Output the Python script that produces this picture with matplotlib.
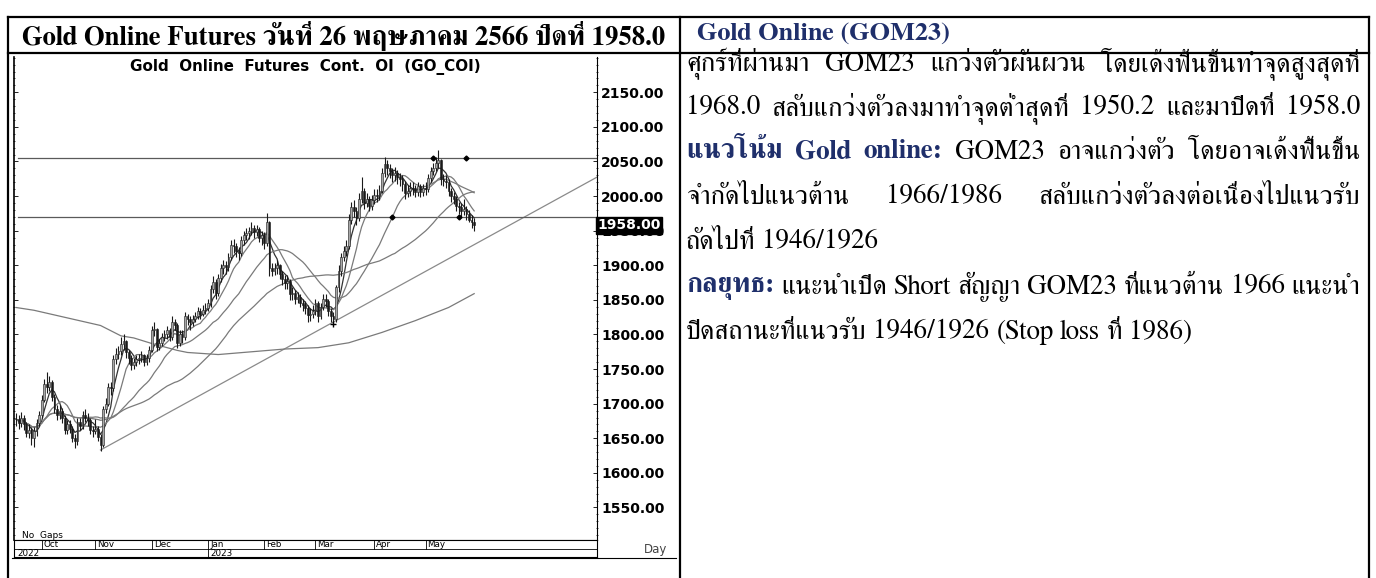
import numpy as np
import pandas as pd
import matplotlib
matplotlib.use('Agg')
import matplotlib.pyplot as plt
import matplotlib.transforms as mtransforms
from matplotlib.ticker import MultipleLocator

# ---------------- data ----------------
days = pd.bdate_range('2022-09-19', '2023-05-26')

close = [
    1678, 1672, 1680, 1670, 1658, 1662, 1650, 1660, 1672, 1684,
    1706, 1728, 1724, 1732, 1710, 1692, 1684, 1690, 1680, 1662,
    1670, 1664, 1650, 1646, 1674, 1668, 1684, 1680, 1676, 1662, 1660,
    1664, 1652, 1640, 1692, 1700, 1724, 1722, 1764, 1772, 1776,
    1786, 1790, 1774, 1766, 1756, 1760, 1764, 1766, 1770, 1760, 1766, 1778,
    1806, 1808, 1782, 1788, 1796, 1800, 1806, 1796, 1818, 1814,
    1788, 1800, 1796, 1826, 1822, 1818, 1822, 1826, 1834, 1830, 1836, 1838,
    1846, 1866, 1876, 1860, 1882, 1896, 1900, 1898, 1912, 1930,
    1928, 1920, 1918, 1936, 1944, 1946, 1950, 1954, 1948, 1952, 1940, 1944,
    1932, 1962, 1896, 1892, 1896, 1900, 1888, 1880, 1874, 1878,
    1858, 1860, 1852, 1854, 1846, 1842, 1838, 1828, 1830, 1834,
    1846, 1826, 1840, 1852, 1848, 1834, 1826, 1822, 1868, 1892,
    1912, 1920, 1928, 1966, 1984, 1978, 1968, 1996, 2008, 1990, 1996, 1986, 1994,
    2002, 2000, 2008, 2034, 2046, 2040, 2036, 2030, 2034, 2028,
    2024, 2018, 2004, 2008, 2012, 2010, 2006, 2014, 2006, 2012,
    2010, 2026, 2036, 2040, 2048, 2052, 2024, 2022, 2020, 2008,
    2000, 1996, 1986, 1984, 1978, 1982, 1974, 1966, 1962, 1958,
]
high = [
    1686, 1684, 1688, 1684, 1674, 1670, 1666, 1666, 1678, 1690,
    1712, 1736, 1746, 1740, 1734, 1714, 1698, 1698, 1694, 1684,
    1676, 1676, 1668, 1656, 1680, 1680, 1690, 1692, 1686, 1680, 1668,
    1678, 1668, 1656, 1696, 1708, 1730, 1732, 1770, 1780, 1784,
    1796, 1800, 1792, 1778, 1770, 1766, 1770, 1772, 1776, 1772, 1772, 1784,
    1812, 1818, 1810, 1794, 1802, 1806, 1812, 1810, 1826, 1822,
    1816, 1806, 1806, 1832, 1830, 1826, 1828, 1832, 1840, 1838, 1842, 1846,
    1852, 1872, 1884, 1880, 1888, 1902, 1908, 1906, 1918, 1936,
    1938, 1932, 1926, 1942, 1950, 1954, 1956, 1962, 1958, 1958, 1956, 1950,
    1948, 1976, 1964, 1904, 1904, 1908, 1902, 1892, 1886, 1886,
    1880, 1868, 1864, 1862, 1858, 1852, 1848, 1842, 1838, 1842,
    1852, 1848, 1846, 1858, 1858, 1852, 1838, 1832, 1872, 1900,
    1918, 1928, 1936, 1974, 1992, 1994, 1984, 2004, 2028, 2012, 2004, 2000, 2002,
    2010, 2010, 2016, 2040, 2057, 2052, 2046, 2040, 2042, 2038,
    2034, 2030, 2022, 2016, 2020, 2020, 2016, 2020, 2018, 2018,
    2020, 2032, 2042, 2048, 2056, 2067, 2054, 2032, 2030, 2024,
    2012, 2006, 2000, 1992, 1990, 1996, 1986, 1980, 1972, 1968,
]
low = [
    1668, 1664, 1666, 1662, 1652, 1650, 1640, 1638, 1654, 1668,
    1680, 1702, 1716, 1718, 1704, 1686, 1676, 1678, 1672, 1656,
    1656, 1658, 1644, 1636, 1640, 1662, 1664, 1674, 1668, 1656, 1652,
    1656, 1646, 1632, 1638, 1686, 1696, 1712, 1718, 1758, 1764,
    1770, 1778, 1766, 1758, 1748, 1750, 1754, 1758, 1760, 1754, 1756, 1760,
    1774, 1798, 1776, 1778, 1784, 1790, 1794, 1790, 1792, 1806,
    1780, 1784, 1788, 1792, 1814, 1806, 1812, 1818, 1822, 1822, 1826, 1830,
    1834, 1840, 1860, 1852, 1856, 1876, 1888, 1888, 1892, 1908,
    1918, 1912, 1908, 1914, 1930, 1936, 1938, 1944, 1940, 1942, 1934, 1930,
    1924, 1928, 1884, 1884, 1886, 1888, 1880, 1872, 1866, 1866,
    1850, 1850, 1844, 1846, 1840, 1834, 1830, 1818, 1820, 1824,
    1828, 1818, 1822, 1836, 1840, 1826, 1818, 1814, 1818, 1862,
    1884, 1906, 1914, 1924, 1960, 1970, 1958, 1964, 1990, 1982, 1984, 1978, 1980,
    1988, 1992, 1994, 2004, 2028, 2030, 2026, 2020, 2022, 2018,
    2014, 2008, 1996, 1998, 2000, 2002, 1998, 2000, 1998, 2000,
    2002, 2006, 2020, 2030, 2036, 2040, 2016, 2014, 2012, 2000,
    1992, 1988, 1978, 1974, 1970, 1972, 1966, 1962, 1954, 1950,
]
ma_periods = [5, 10, 25, 50]

# slow average, read at a few bars only
long_ma_idx = [0, 7, 20, 33, 41, 46, 53, 56, 63, 67, 79, 92, 105, 118, 130, 143, 156, 169, 179]
long_ma_val = [1839, 1835, 1824, 1813, 1798, 1795, 1787, 1784, 1777, 1774, 1771, 1775,
               1779, 1781, 1788, 1803, 1820, 1839, 1859]

trend_idx = [33, 124]
trend_val = [1633, 1818]
level_lines = [2055, 1970]
pivot_idx = [147, 173, 163, 176]
pivot_val = [1970, 1970, 2055, 2055]
ytick_vals = [1550, 1600, 1650, 1700, 1750, 1800, 1850, 1900, 1950, 2000, 2050, 2100, 2150]
last_close = 1958.0

chart_title = 'Gold  Online  Futures  Cont.  OI  (GO_COI)'
head_left = 'Gold Online Futures วันที่ 26 พฤษภาคม 2566 ปิดที่ 1958.0'
head_right = 'Gold Online (GOM23)'
# (text, bold-blue?) segments for each line, and whether the line is justified
body = [
    ([('ศุกร์ที่ผ่านมา GOM23 แกว่งตัวผันผวน โดยเด้งฟื้นขึ้นทำจุดสูงสุดที่', False)], True),
    ([('1968.0 สลับแกว่งตัวลงมาทำจุดต่ำสุดที่ 1950.2 และมาปิดที่ 1958.0', False)], True),
    ([('แนวโน้ม Gold online:', True), ('GOM23 อาจแกว่งตัว โดยอาจเด้งฟื้นขึ้น', False)], True),
    ([('จำกัดไปแนวต้าน 1966/1986 สลับแกว่งตัวลงต่อเนื่องไปแนวรับ', False)], True),
    ([('ถัดไปที่ 1946/1926', False)], False),
    ([('กลยุทธ:', True), ('แนะนำเปิด Short สัญญา GOM23 ที่แนวต้าน 1966 แนะนำ', False)], True),
    ([('ปิดสถานะที่แนวรับ 1946/1926 (Stop loss ที่ 1986)', False)], False),
]
body_y = [64, 108, 152, 197, 242, 287, 332]
navy = '#1f2f6b'

serif = ['FreeSerif', 'Loma', 'DejaVu Sans']

W, H = 1376, 578
fig = plt.figure(figsize=(W / 100, H / 100), dpi=100)


def fx(px):
    return px / W


def fy(py):
    return 1 - py / H


# background layer in pixel units for the table and its text
bg = fig.add_axes([0, 0, 1, 1])
bg.set_xlim(0, W)
bg.set_ylim(H, 0)
bg.axis('off')

lw_tab = 1.6
bg.plot([8, 8], [17, H], color='black', lw=lw_tab)
bg.plot([1369, 1369], [17, H], color='black', lw=lw_tab)
bg.plot([680, 680], [17, H], color='black', lw=lw_tab)
bg.plot([8, 1369], [17, 17], color='black', lw=lw_tab)
bg.plot([8, 1369], [53, 53], color='black', lw=lw_tab)

rend = fig.canvas.get_renderer()


def text_w(s, **kw):
    t = bg.text(0, 0, s, **kw)
    w = t.get_window_extent(rend).width
    t.remove()
    return w


def fit_size(s, width, **kw):
    return 20 * width / text_w(s, fontsize=20, **kw)


sz = fit_size(head_left, 645, family=serif, fontweight='bold')
bg.text(344, 36, head_left, family=serif, fontweight='bold', fontsize=sz,
        ha='center', va='center')
sz = fit_size(head_right, 253, family=serif, fontweight='bold')
bg.text(697, 34, head_right, family=serif, fontweight='bold', fontsize=sz,
        color=navy, ha='left', va='center')

# body text, justified between two edges
x0, x1 = 686, 1360
words = []
for segs, just in body:
    ws = []
    for s, blue in segs:
        for w in s.split():
            ws.append((w, blue))
    words.append((ws, just))

space_ref = text_w('a a', family=serif, fontsize=20) - text_w('aa', family=serif, fontsize=20)
nat = []
for ws, just in words:
    tot = sum(text_w(w, family=serif, fontsize=20,
                     fontweight='bold' if b else 'normal') for w, b in ws)
    nat.append(tot + space_ref * (len(ws) - 1))
body_size = 20 * (x1 - x0) / max(nat)

for (ws, just), yy in zip(words, body_y):
    kws = [dict(family=serif, fontsize=body_size, fontweight='bold' if b else 'normal',
                color=navy if b else 'black') for w, b in ws]
    widths = [text_w(w, **k) for (w, b), k in zip(ws, kws)]
    if just and len(ws) > 1:
        gap = (x1 - x0 - sum(widths)) / (len(ws) - 1)
    else:
        gap = space_ref * body_size / 20
    xx = x0
    for (w, b), k, wd in zip(ws, kws, widths):
        bg.text(xx, yy, w, ha='left', va='center', **k)
        xx += wd + gap

# ---------------- price chart ----------------
ax = fig.add_axes([fx(14), fy(540), fx(597) - fx(14), fy(57) - fy(540)])
xi = np.arange(len(close))
c = np.array(close, float)
h = np.array(high, float)
lo = np.array(low, float)
o = np.r_[c[0], c[:-1]]
up = c >= o

ax.vlines(xi, lo, h, color='#1a1a1a', lw=0.8, zorder=4)
ax.bar(xi[up], (c - o)[up], bottom=o[up], width=0.7, color='#a8a8a8',
       edgecolor='#1a1a1a', lw=0.4, zorder=5)
ax.bar(xi[~up], (c - o)[~up], bottom=o[~up], width=0.7, color='#1a1a1a',
       edgecolor='#1a1a1a', lw=0.4, zorder=5)

s = pd.Series(c)
for n in ma_periods:
    ax.plot(xi, s.rolling(n, min_periods=1).mean(), color='#333333' if n == 5 else '#7a7a7a',
            lw=0.9, zorder=3)
ax.plot(long_ma_idx, long_ma_val, color='#7a7a7a', lw=0.9, zorder=3)

xmin, xmax = -0.8, 227
slope = (trend_val[1] - trend_val[0]) / (trend_idx[1] - trend_idx[0])
ax.plot([trend_idx[0], xmax], [trend_val[0], trend_val[0] + slope * (xmax - trend_idx[0])],
        color='#8a8a8a', lw=0.9, zorder=2)
ax.plot(trend_idx[1], trend_val[1] - 3, marker='+', color='black', ms=5, mew=1, zorder=6)
for v in level_lines:
    ax.plot([0.8, xmax], [v, v], color='#5a5a5a', lw=0.9, zorder=2)
ax.plot(pivot_idx, pivot_val, 'D', color='black', ms=2.5, ls='none', zorder=6)

ax.set_xlim(xmin, xmax)
ax.set_ylim(1503, 2201)
ax.set_xticks([])
ax.yaxis.tick_right()
ax.set_yticks(ytick_vals)
ax.set_yticklabels([f'{v:.2f}' for v in ytick_vals], fontweight='bold', fontsize=10,
                   family='DejaVu Sans')
ax.yaxis.set_minor_locator(MultipleLocator(10))
ax.tick_params(axis='y', which='major', length=3, width=0.6, direction='in', pad=3,
               left=True, right=True)
ax.tick_params(axis='y', which='minor', length=2, width=0.5, direction='inout',
               left=True, right=True)
ax.spines['top'].set_visible(False)
ax.spines['left'].set_linewidth(1.2)
ax.spines['right'].set_linewidth(0.8)
ax.spines['bottom'].set_linewidth(0.8)

ax.text(1.0, last_close, f'{last_close:.2f}', transform=mtransforms.blended_transform_factory(
    ax.transAxes, ax.transData), ha='left', va='center', fontsize=10, fontweight='bold',
    color='white', family='DejaVu Sans', zorder=10, clip_on=False,
    bbox=dict(boxstyle='square,pad=0.1', fc='black', ec='black'))

fig.text(fx(305), fy(67), chart_title, ha='center', va='center', fontsize=10.9,
         fontweight='bold', family='DejaVu Sans')
fig.text(fx(22), fy(535), 'No  Gaps', ha='left', va='center', fontsize=6.5,
         family='DejaVu Sans')
fig.text(fx(656), fy(549), 'Day', ha='center', va='center', fontsize=8.5, color='#444444',
         family='DejaVu Sans')

# date band under the chart
dax = fig.add_axes([fx(14), fy(557), fx(597) - fx(14), fy(540) - fy(557)])
dax.set_xlim(xmin, xmax)
dax.set_ylim(0, 2)
dax.set_xticks([])
dax.set_yticks([])
for sp in dax.spines.values():
    sp.set_linewidth(0.8)
dax.axhline(1, color='black', lw=0.6)
starts = [i for i in range(1, len(days)) if days[i].month != days[i - 1].month]
for i in starts:
    dax.plot([i, i], [1, 2], color='black', lw=0.6)
    dax.text(i + 0.8, 1.45, days[i].strftime('%b'), fontsize=6.3, va='center', ha='left',
             family='DejaVu Sans')
    if days[i].month == 1:
        dax.plot([i, i], [0, 1], color='black', lw=0.6)
        dax.text(i + 0.8, 0.45, str(days[i].year), fontsize=6.3, va='center', ha='left',
                 family='DejaVu Sans')
dax.text(xmin + 1.5, 0.45, str(days[0].year), fontsize=6.3, va='center', ha='left',
         family='DejaVu Sans')
bg.plot([12, 676], [558, 558], color='black', lw=0.8)

fig.savefig('out.png', dpi=100)
